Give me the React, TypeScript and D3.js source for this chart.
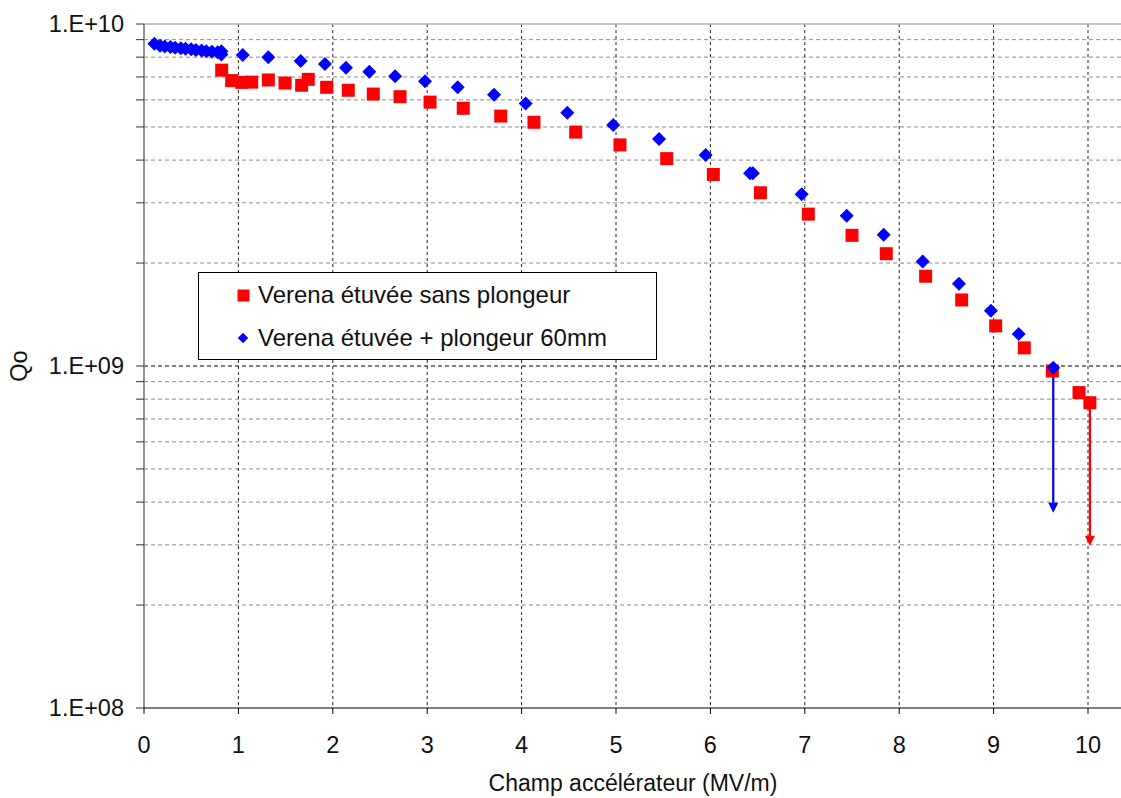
import React from "react";
import * as d3 from "d3";

const redX = [0.823, 0.929, 1.035, 1.141, 1.317, 1.494, 1.67, 1.74, 1.935, 2.164, 2.429, 2.712, 3.03, 3.382, 3.779, 4.131, 4.573, 5.042, 5.537, 6.031, 6.53, 7.037, 7.5, 7.863, 8.28, 8.662, 9.022, 9.325, 9.622, 9.905, 10.02];
const redQ = [7.33e9, 6.83e9, 6.75e9, 6.76e9, 6.86e9, 6.72e9, 6.62e9, 6.89e9, 6.53e9, 6.4e9, 6.24e9, 6.13e9, 5.91e9, 5.67e9, 5.38e9, 5.16e9, 4.83e9, 4.43e9, 4.04e9, 3.63e9, 3.21e9, 2.78e9, 2.41e9, 2.13e9, 1.83e9, 1.56e9, 1.31e9, 1.13e9, 9.67e8, 8.36e8, 7.81e8];

const blueX = [0.11, 0.17, 0.22, 0.28, 0.33, 0.39, 0.44, 0.5, 0.55, 0.61, 0.66, 0.72, 0.78, 0.82, 0.82, 1.046, 1.317, 1.66, 1.917, 2.14, 2.387, 2.66, 2.977, 3.323, 3.708, 4.043, 4.484, 4.971, 5.456, 5.95, 6.42, 6.45, 6.967, 7.444, 7.836, 8.249, 8.633, 8.972, 9.266, 9.632];
const blueQ = [8.75e9, 8.64e9, 8.6e9, 8.56e9, 8.52e9, 8.5e9, 8.46e9, 8.44e9, 8.4e9, 8.37e9, 8.33e9, 8.3e9, 8.27e9, 8.33e9, 8.14e9, 8.12e9, 7.99e9, 7.79e9, 7.64e9, 7.45e9, 7.25e9, 7.03e9, 6.8e9, 6.53e9, 6.21e9, 5.86e9, 5.5e9, 5.07e9, 4.61e9, 4.14e9, 3.66e9, 3.66e9, 3.18e9, 2.75e9, 2.42e9, 2.02e9, 1.74e9, 1.45e9, 1.24e9, 9.89e8];

// quench arrows: [x, from Q, to Q]
const blueArrow = [9.632, 9.89e8, 3.72e8];
const redArrow = [10.02, 7.81e8, 2.98e8];

const xTicks = [0, 1, 2, 3, 4, 5, 6, 7, 8, 9, 10];
const yMajor = [1e8, 1e9, 1e10];
const yLabels = ["1.E+08", "1.E+09", "1.E+10"];
const seriesNames = ["Verena étuvée sans plongeur", "Verena étuvée + plongeur 60mm"];

const W = 1121, H = 798;
const left = 144, top = 24, bottom = 708, right = 1121;
const FONT = "'Liberation Sans', Arial, sans-serif";

export default function App() {
  const x = d3.scaleLinear().domain([0, 10]).range([left, 1088]);
  const y = d3.scaleLog().domain([1e8, 1e10]).range([bottom, top]);
  const minor: number[] = [];
  [1e8, 1e9].forEach((d) => {
    for (let k = 2; k <= 9; k++) minor.push(k * d);
  });
  const diamond = d3.symbol().type(d3.symbolDiamond2).size(125)();

  const arrow = (a: number[], color: string) => {
    const ax = x(a[0]);
    const y1 = y(a[1]);
    const y2 = y(a[2]);
    return (
      <g>
        <line x1={ax} x2={ax} y1={y1} y2={y2 - 6} stroke={color} strokeWidth={2.2} />
        <path d={`M${ax - 5},${y2 - 10} L${ax + 5},${y2 - 10} L${ax},${y2} Z`} fill={color} />
      </g>
    );
  };

  return (
    <svg width={W} height={H} style={{ position: "absolute", left: 0, top: 0, background: "#fff" }} fontFamily={FONT}>
      {/* horizontal minor grid */}
      {minor.map((v) => (
        <line key={"m" + v} x1={left} x2={right} y1={y(v)} y2={y(v)} stroke="#8c8c8c" strokeDasharray="4,3" strokeWidth={1} />
      ))}
      {/* 1E9 major grid */}
      <line x1={left} x2={right} y1={y(1e9)} y2={y(1e9)} stroke="#000" strokeDasharray="4,3" strokeWidth={1} />
      {/* vertical grid */}
      {xTicks.filter((t) => t > 0).map((t) => (
        <line key={"v" + t} x1={x(t)} x2={x(t)} y1={top} y2={bottom} stroke="#222" strokeDasharray="3,3" strokeWidth={1} />
      ))}
      {/* top border */}
      <line x1={left} x2={right} y1={top} y2={top} stroke="#b0b0b0" strokeWidth={1.5} />
      {/* axes */}
      <line x1={left} x2={left} y1={top} y2={bottom} stroke="#707070" strokeWidth={1.5} />
      <line x1={left} x2={right} y1={bottom} y2={bottom} stroke="#000" strokeWidth={1.2} />
      {[...yMajor, ...minor].map((v) => (
        <line key={"t" + v} x1={left - 8} x2={left} y1={y(v)} y2={y(v)} stroke="#333" strokeWidth={1} />
      ))}
      {xTicks.map((t) => (
        <line key={"xt" + t} x1={x(t)} x2={x(t)} y1={bottom} y2={bottom + 6} stroke="#000" strokeWidth={1} />
      ))}
      {/* tick labels */}
      {yMajor.map((v, i) => (
        <text key={"yl" + v} x={124} y={y(v) + 8} textAnchor="end" fontSize={23.5} fill="#111">{yLabels[i]}</text>
      ))}
      {xTicks.map((t) => (
        <text key={"xl" + t} x={x(t)} y={753} textAnchor="middle" fontSize={23.5} fill="#111">{t}</text>
      ))}
      <text x={633} y={791} textAnchor="middle" fontSize={23} fill="#111">Champ accélérateur (MV/m)</text>
      <text transform={`translate(27,${y(1e9)}) rotate(-90)`} textAnchor="middle" fontSize={23.5} fill="#111">Qo</text>

      {/* arrows */}
      {arrow(blueArrow, "#0000ff")}
      {arrow(redArrow, "#ff0000")}

      {/* red squares */}
      {redX.map((v, i) => (
        <rect key={"r" + i} x={x(v) - 6.5} y={y(redQ[i]) - 6.5} width={13} height={13} fill="#ff0000" />
      ))}
      {/* blue diamonds */}
      {blueX.map((v, i) => (
        <path key={"b" + i} d={diamond!} transform={`translate(${x(v)},${y(blueQ[i])})`} fill="#0000ff" />
      ))}

      {/* legend */}
      <rect x={198.5} y={272.5} width={458} height={87} fill="#fff" stroke="#000" strokeWidth={1} />
      <rect x={237.5} y={289.5} width={12} height={12} fill="#ff0000" />
      <text x={258} y={303} fontSize={24} fill="#111">{seriesNames[0]}</text>
      <path d={d3.symbol().type(d3.symbolDiamond2).size(70)()!} transform="translate(243,338)" fill="#0000ff" />
      <text x={258} y={346} fontSize={24} fill="#111">{seriesNames[1]}</text>
    </svg>
  );
}
